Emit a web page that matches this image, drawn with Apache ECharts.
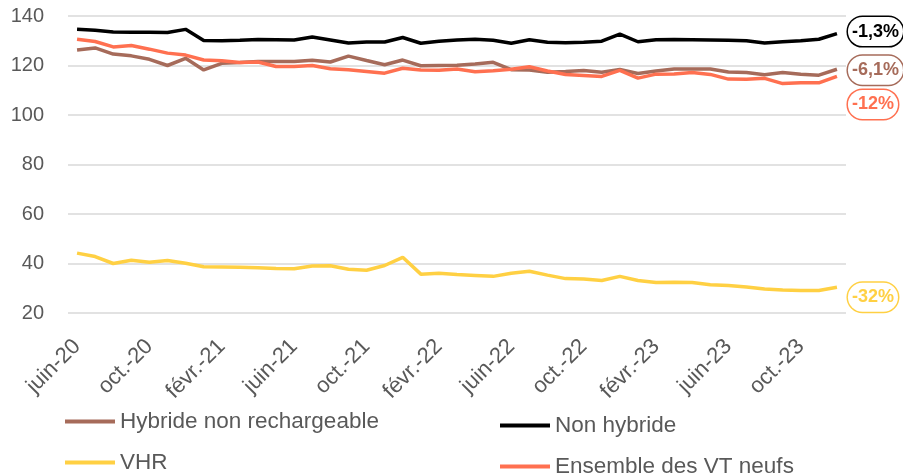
<!DOCTYPE html>
<html>
<head>
<meta charset="utf-8">
<script src="https://cdn.jsdelivr.net/npm/echarts@6/dist/echarts.min.js"></script>
<style>
  html, body { margin: 0; padding: 0; background: #fff; }
  #chart { width: 903px; height: 474px; }
</style>
</head>
<body>
<div id="chart"></div>
<script>
// mois, de juin-20 à déc.-23
var months = [
    'juin-20', 'juil.-20', 'août-20', 'sept.-20', 'oct.-20', 'nov.-20', 'déc.-20',
    'janv.-21', 'févr.-21', 'mars-21', 'avr.-21', 'mai-21', 'juin-21', 'juil.-21', 'août-21', 'sept.-21', 'oct.-21', 'nov.-21', 'déc.-21',
    'janv.-22', 'févr.-22', 'mars-22', 'avr.-22', 'mai-22', 'juin-22', 'juil.-22', 'août-22', 'sept.-22', 'oct.-22', 'nov.-22', 'déc.-22',
    'janv.-23', 'févr.-23', 'mars-23', 'avr.-23', 'mai-23', 'juin-23', 'juil.-23', 'août-23', 'sept.-23', 'oct.-23', 'nov.-23', 'déc.-23'
];

var hybrideNR = [126.3, 127.1, 124.6, 123.9, 122.5, 120.0, 122.9, 118.2, 120.9, 121.2, 121.6, 121.6, 121.6, 122.1, 121.4, 123.8, 122.0, 120.3, 122.2,
    119.9, 120.0, 120.1, 120.6, 121.3, 118.3, 118.2, 117.3, 117.6, 118.0, 117.3, 118.4, 116.8, 117.8, 118.6, 118.6, 118.6, 117.4, 117.2, 116.3, 117.2, 116.5, 116.1, 118.5];
var nonHybride = [134.6, 134.2, 133.5, 133.4, 133.4, 133.3, 134.6, 130.1, 130.0, 130.2, 130.5, 130.4, 130.3, 131.5, 130.3, 129.1, 129.5, 129.5, 131.3,
    129.0, 129.8, 130.3, 130.6, 130.2, 129.0, 130.4, 129.4, 129.2, 129.4, 129.8, 132.7, 129.6, 130.4, 130.5, 130.4, 130.3, 130.2, 130.0, 129.1, 129.6, 130.0, 130.6, 132.9];
var vhr = [44.2, 42.8, 40.0, 41.3, 40.5, 41.2, 40.1, 38.7, 38.6, 38.5, 38.3, 38.0, 37.9, 39.0, 39.1, 37.7, 37.3, 39.2, 42.5,
    35.7, 36.1, 35.6, 35.2, 34.8, 36.1, 36.9, 35.3, 33.9, 33.7, 33.1, 34.8, 33.1, 32.3, 32.4, 32.3, 31.4, 31.1, 30.5, 29.7, 29.3, 29.1, 29.1, 30.4];
var ensemble = [130.6, 129.7, 127.5, 128.1, 126.6, 125.0, 124.2, 122.2, 121.9, 121.2, 121.4, 119.6, 119.6, 120.0, 118.7, 118.3, 117.6, 116.9, 118.9,
    118.2, 118.1, 118.6, 117.5, 117.9, 118.5, 119.5, 117.8, 116.4, 116.0, 115.6, 118.0, 114.9, 116.5, 116.6, 117.2, 116.4, 114.5, 114.4, 114.8, 112.7, 113.0, 113.0, 115.6];

var yTicks = { min: 20, max: 140, interval: 20 };

var names = ['Hybride non rechargeable', 'Non hybride', 'VHR', 'Ensemble des VT neufs'];
var variations = ['-6,1%', '-1,3%', '-32%', '-12%'];
var colors = ['#a66b5a', '#000000', '#ffd043', '#ff7050'];

var txtColor = '#595959';
var fontFam = '"Liberation Sans", Arial, sans-serif';

function endLbl(idx, dy) {
    return {
        show: true,
        formatter: variations[idx],
        distance: 11,
        offset: [0, dy],
        color: colors[idx],
        fontWeight: 'bold',
        fontSize: 18,
        fontFamily: fontFam,
        backgroundColor: '#fff',
        borderColor: colors[idx],
        borderWidth: 1.5,
        borderRadius: 16,
        padding: [6, 4, 5, 4]
    };
}

function makeSeries(idx, data, dy) {
    return {
        name: names[idx],
        type: 'line',
        data: data,
        symbol: 'none',
        lineStyle: { width: 3.5, color: colors[idx] },
        itemStyle: { color: colors[idx] },
        endLabel: endLbl(idx, dy)
    };
}

function legendAt(idx, left, top) {
    return {
        data: [names[idx]],
        left: left,
        top: top,
        padding: 0,
        icon: 'rect',
        itemWidth: 50,
        itemHeight: 4,
        textStyle: { color: txtColor, fontSize: 22.5, fontFamily: fontFam }
    };
}

var chart = echarts.init(document.getElementById('chart'));
chart.setOption({
    animation: false,
    textStyle: { fontFamily: fontFam },
    grid: { left: 68, right: 57, top: 16, bottom: 161 },
    legend: [
        legendAt(0, 65, 410),
        legendAt(1, 500, 414),
        legendAt(2, 65, 451),
        legendAt(3, 500, 455)
    ],
    xAxis: {
        type: 'category',
        data: months,
        boundaryGap: true,
        axisLine: { show: false },
        axisTick: { show: false },
        axisLabel: {
            interval: 3,
            rotate: 45,
            margin: 30,
            color: txtColor,
            fontSize: 22,
            fontFamily: fontFam
        }
    },
    yAxis: {
        type: 'value',
        min: yTicks.min,
        max: yTicks.max,
        interval: yTicks.interval,
        axisLine: { show: false },
        axisTick: { show: false },
        axisLabel: { color: txtColor, fontSize: 20, margin: 24, fontFamily: fontFam },
        splitLine: { lineStyle: { color: '#d9d9d9', width: 1.5 } }
    },
    series: [
        makeSeries(2, vhr, 10),
        makeSeries(0, hybrideNR, 1),
        makeSeries(3, ensemble, 28),
        makeSeries(1, nonHybride, -2)
    ]
});
</script>
</body>
</html>
